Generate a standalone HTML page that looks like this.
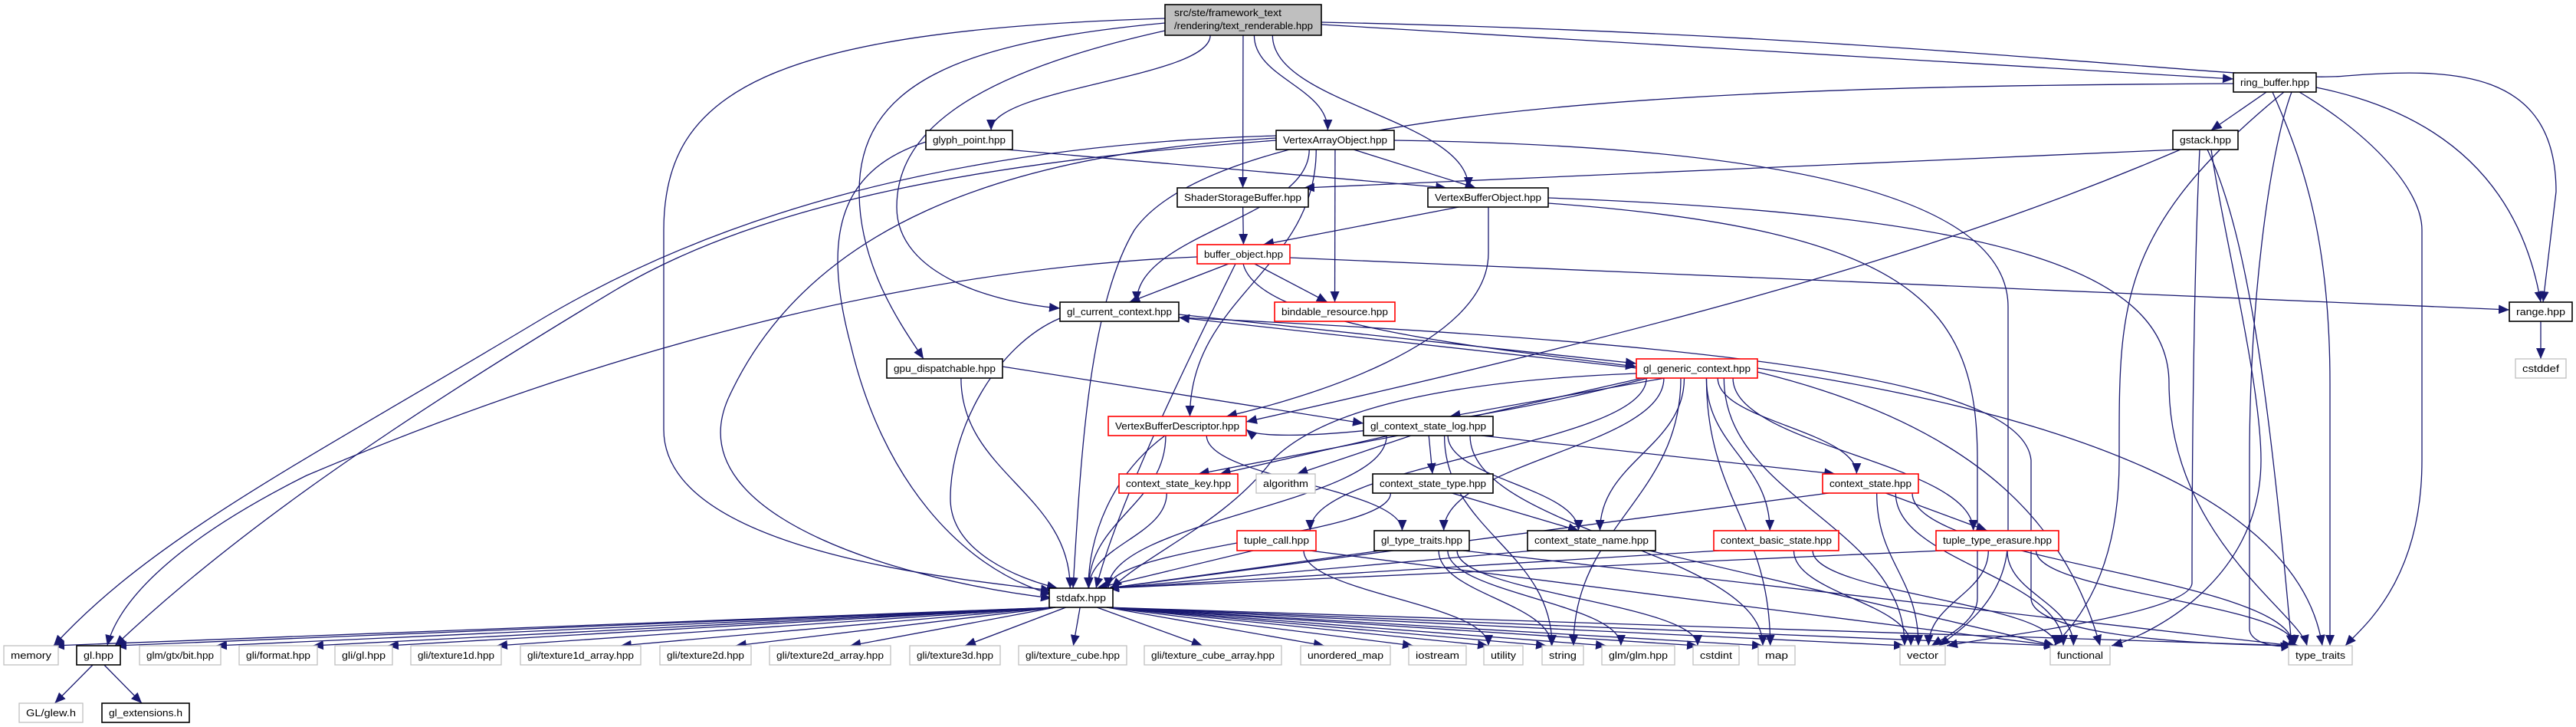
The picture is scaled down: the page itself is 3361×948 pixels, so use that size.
<!DOCTYPE html>
<html><head><meta charset="utf-8">
<style>
html,body{margin:0;padding:0;background:#fff;}
svg{display:block;}
text{font-family:"Liberation Sans",Arial,sans-serif;font-size:13px;fill:#000;}
</style></head>
<body>
<svg id="g" xmlns="http://www.w3.org/2000/svg" width="3361" height="948" viewBox="0 0 3361 948">
<defs>
<marker id="ah" markerUnits="userSpaceOnUse" markerWidth="16" markerHeight="12" refX="14" refY="6" orient="auto">
<path d="M0,0 L14,6 L0,12 z" fill="#191970"/>
</marker>
</defs>
<g id="edges" fill="none" stroke="#191970" stroke-width="1.3"></g>
<g id="nodes"></g>
</svg>
<script>
var N={
root:["",1520,1724,6,46,"root"],
ring:["ring_buffer.hpp",2914,3022,95,120,"b"],
glyph:["glyph_point.hpp",1208,1321,170,195,"b"],
vao:["VertexArrayObject.hpp",1665,1819,170,195,"b"],
gstack:["gstack.hpp",2835,2920,170,195,"b"],
ssb:["ShaderStorageBuffer.hpp",1536,1707,245,270,"b"],
vbo:["VertexBufferObject.hpp",1863,2020,245,270,"b"],
bo:["buffer_object.hpp",1562,1683,319,344,"r"],
glcc:["gl_current_context.hpp",1383,1538,394,419,"b"],
bind:["bindable_resource.hpp",1663,1820,394,419,"r"],
range:["range.hpp",3274,3356,394,419,"b"],
gpu:["gpu_dispatchable.hpp",1157,1308,468,493,"b"],
glgc:["gl_generic_context.hpp",2135,2293,468,493,"r"],
cstddef:["cstddef",3282,3348,468,493,"g"],
vbd:["VertexBufferDescriptor.hpp",1446,1626,543,568,"r"],
gcsl:["gl_context_state_log.hpp",1779,1948,543,568,"b"],
csk:["context_state_key.hpp",1460,1615,618,643,"r"],
algo:["algorithm",1639,1716,618,643,"g"],
cst:["context_state_type.hpp",1791,1948,618,643,"b"],
cs:["context_state.hpp",2378,2503,618,643,"r"],
tcall:["tuple_call.hpp",1614,1717,692,718,"r"],
gtt:["gl_type_traits.hpp",1793,1917,692,718,"b"],
csn:["context_state_name.hpp",1993,2160,692,718,"b"],
cbs:["context_basic_state.hpp",2236,2399,692,718,"r"],
tte:["tuple_type_erasure.hpp",2526,2686,692,718,"r"],
stdafx:["stdafx.hpp",1369,1452,767,792,"b"],
memory:["memory",5,76,842,867,"g"],
glhpp:["gl.hpp",100,157,842,867,"b"],
gtxbit:["glm/gtx/bit.hpp",182,288,842,867,"g"],
format:["gli/format.hpp",312,414,842,867,"g"],
gligl:["gli/gl.hpp",437,512,842,867,"g"],
t1:["gli/texture1d.hpp",536,654,842,867,"g"],
t1a:["gli/texture1d_array.hpp",679,836,842,867,"g"],
t2:["gli/texture2d.hpp",861,980,842,867,"g"],
t2a:["gli/texture2d_array.hpp",1004,1162,842,867,"g"],
t3:["gli/texture3d.hpp",1187,1305,842,867,"g"],
tc:["gli/texture_cube.hpp",1329,1470,842,867,"g"],
tca:["gli/texture_cube_array.hpp",1493,1672,842,867,"g"],
umap:["unordered_map",1697,1814,842,867,"g"],
iostream:["iostream",1838,1913,842,867,"g"],
utility:["utility",1936,1987,842,867,"g"],
string:["string",2012,2066,842,867,"g"],
glm:["glm/glm.hpp",2090,2185,842,867,"g"],
cstdint:["cstdint",2209,2269,842,867,"g"],
map:["map",2294,2342,842,867,"g"],
vector:["vector",2479,2538,842,867,"g"],
functional:["functional",2675,2753,842,867,"g"],
tt:["type_traits",2986,3069,842,867,"g"],
glew:["GL/glew.h",25,108,917,942,"g"],
glext:["gl_extensions.h",133,247,917,942,"b"]
};
var NS="http://www.w3.org/2000/svg";
var E=document.getElementById("edges"),G=document.getElementById("nodes");
function el(t,a,p){var e=document.createElementNS(NS,t);for(var k in a)e.setAttribute(k,a[k]);p.appendChild(e);return e;}
function P(d){el("path",{d:d,"marker-end":"url(#ah)"},E);}
function cl(v,a,b){return Math.max(a,Math.min(b,v));}
function e(a,b){
 var A=N[a],B=N[b];
 var acx=(A[1]+A[2])/2,bcx=(B[1]+B[2])/2;
 var sx=cl(acx+(bcx-acx)*0.12,A[1]+8,A[2]-8),sy=A[4];
 var tx=cl(bcx+(acx-bcx)*0.08,B[1]+6,B[2]-6),ty=B[3];
 if(B[3]<=A[3]){ // same rank or up: side to side
   if(bcx>acx){sx=A[2];tx=B[1];}else{sx=A[1];tx=B[2];}
   sy=(A[3]+A[4])/2;ty=(B[3]+B[4])/2;
   P("M"+sx+","+sy+" L"+tx+","+ty);return;
 }
 var dy=ty-sy;
 if(dy<=80||Math.abs(tx-sx)>dy*3){P("M"+sx+","+sy+" L"+tx+","+ty);return;}
 P("M"+sx+","+sy+" C"+sx+","+(sy+dy*0.45)+" "+tx+","+(ty-dy*0.45)+" "+tx+","+ty);
}
// custom root edges
P("M1520,24 C1000,40 866,120 866,300 L866,560 C866,720 1250,755 1372,770");
P("M1520,30 C1250,55 1121,110 1121,250 C1121,350 1180,430 1205,468");
P("M1520,40 C1250,100 1170,180 1170,270 C1170,360 1300,395 1383,402");
P("M1724,32 L2914,103");
P("M1724,29 C2500,45 2950,110 3060,99 C3200,88 3335,90 3335,250 L3318,394");
e("root","glyph");e("root","ssb");e("root","vao");e("root","vbo");
e("glyph","vbo");P("M1208,185 C1100,220 1070,300 1110,450 C1150,620 1250,740 1372,775");
e("vao","vbo");e("vao","bind");e("vao","glcc");e("vao","vbd");
P("M1665,180 C1300,200 1050,300 950,520 C880,680 1200,760 1372,780");
P("M1665,177 C1200,190 900,300 700,420 C400,600 200,700 70,842");
P("M1665,183 C1300,210 1000,260 800,380 C500,560 300,700 150,842");
P("M1819,183 C2300,190 2620,250 2620,400 L2620,700 C2620,780 2560,820 2530,842");
e("ssb","bo");e("vbo","bo");
P("M1942,270 L1942,330 C1942,450 1700,520 1600,543");
P("M2020,258 C2600,280 2830,350 2830,500 C2830,700 3000,800 3010,842");
P("M2020,265 C2500,300 2580,400 2580,600 L2580,780 C2580,810 2540,830 2520,842");
e("bo","glcc");e("bo","bind");
P("M1683,336 L3274,404");
P("M1622,344 C1640,420 1900,450 2135,478");
P("M1562,335 C1200,350 800,450 400,620 C200,720 150,800 140,842");
P("M1612,344 C1560,450 1460,650 1430,767");
P("M1538,410 L2135,474");P("M2135,480 L1538,414");
P("M1538,414 C2300,450 2640,500 2650,600 L2650,780 C2650,820 2800,840 3000,842");
P("M1383,415 C1300,450 1240,560 1240,650 C1240,720 1330,755 1380,767");
P("M2914,109 C2300,112 1600,130 1480,300 C1420,400 1410,600 1400,767");
e("ring","gstack");
P("M3022,114 C3200,150 3290,250 3315,394");
P("M2990,120 C2960,200 2935,400 2935,600 L2935,820 C2935,835 2960,845 2990,842");
P("M2965,120 C3000,200 3040,300 3040,500 L3040,842");
P("M3000,120 C3100,180 3160,250 3160,300 L3160,600 C3160,760 3080,820 3060,842");
P("M2980,120 C2760,300 2765,400 2765,600 C2765,760 2700,820 2680,842");
e("gstack","ssb");
P("M2845,195 C2600,300 2300,400 1626,550");
P("M2870,195 C2865,300 2860,500 2860,760 C2860,800 2600,830 2540,842");
P("M2880,195 C2930,300 2960,500 2990,842");
P("M2885,195 C2900,300 2950,500 2950,600 C2950,760 2800,830 2755,842");
e("gpu","stdafx");P("M1308,478 L1779,552");
e("glgc","gcsl");e("glgc","csk");e("glgc","gtt");e("glgc","csn");e("glgc","cs");e("glgc","cbs");e("glgc","tte");e("glgc","tcall");e("glgc","map");e("glgc","vector");e("glgc","string");
P("M2135,487 C1800,500 1700,560 1660,600 C1600,680 1500,720 1450,767");
P("M2293,480 C2700,540 3000,650 3030,842");
P("M2293,485 C2600,560 2700,700 2740,842");
P("M2150,493 C1900,560 1650,580 1626,560");
e("gcsl","algo");e("gcsl","cst");e("gcsl","csk");e("gcsl","csn");e("gcsl","cs");e("gcsl","stdafx");e("gcsl","string");e("gcsl","map");
e("cst","csn");e("cst","stdafx");
e("cs","stdafx");e("cs","vector");e("cs","functional");e("cs","tte");e("cs","tt");
e("cbs","stdafx");e("cbs","vector");e("cbs","functional");
e("tte","vector");e("tte","functional");e("tte","tt");e("tte","stdafx");
e("tcall","stdafx");e("tcall","utility");e("tcall","functional");
e("gtt","stdafx");e("gtt","glm");e("gtt","cstdint");e("gtt","string");e("gtt","tt");
e("csn","stdafx");e("csn","functional");e("csk","stdafx");
e("vbd","stdafx");P("M1520,568 C1450,620 1420,700 1420,767");e("vbd","gtt");
["memory","glhpp","gtxbit","format","gligl","t1","t1a","t2","t2a","t3","tc","tca","umap","iostream","utility","string","glm","cstdint","map","vector","functional","tt"].forEach(function(k){e("stdafx",k);});
e("glhpp","glew");e("glhpp","glext");e("range","cstddef");
// nodes
for(var k in N){var n=N[k],w=n[2]-n[1],h=n[4]-n[3];
 var st=n[5]=="r"?"#ff0000":(n[5]=="g"?"#bfbfbf":"#000000");
 var fill=n[5]=="root"?"#bfbfbf":"#ffffff";
 el("rect",{x:n[1],y:n[3],width:w,height:h,fill:fill,stroke:st,"stroke-width":n[5]=="g"?1.3:1.6},G);
 if(k=="root"){
  var t=el("text",{x:n[1]+12,y:21,textLength:140,lengthAdjust:"spacingAndGlyphs"},G);t.textContent="src/ste/framework_text";
  t=el("text",{x:n[1]+12,y:38,textLength:181,lengthAdjust:"spacingAndGlyphs"},G);t.textContent="/rendering/text_renderable.hpp";
 }else{
  var t=el("text",{x:n[1]+9,y:n[3]+17,textLength:w-18,lengthAdjust:"spacingAndGlyphs"},G);t.textContent=n[0];
 }
}
</script>
</body></html>
